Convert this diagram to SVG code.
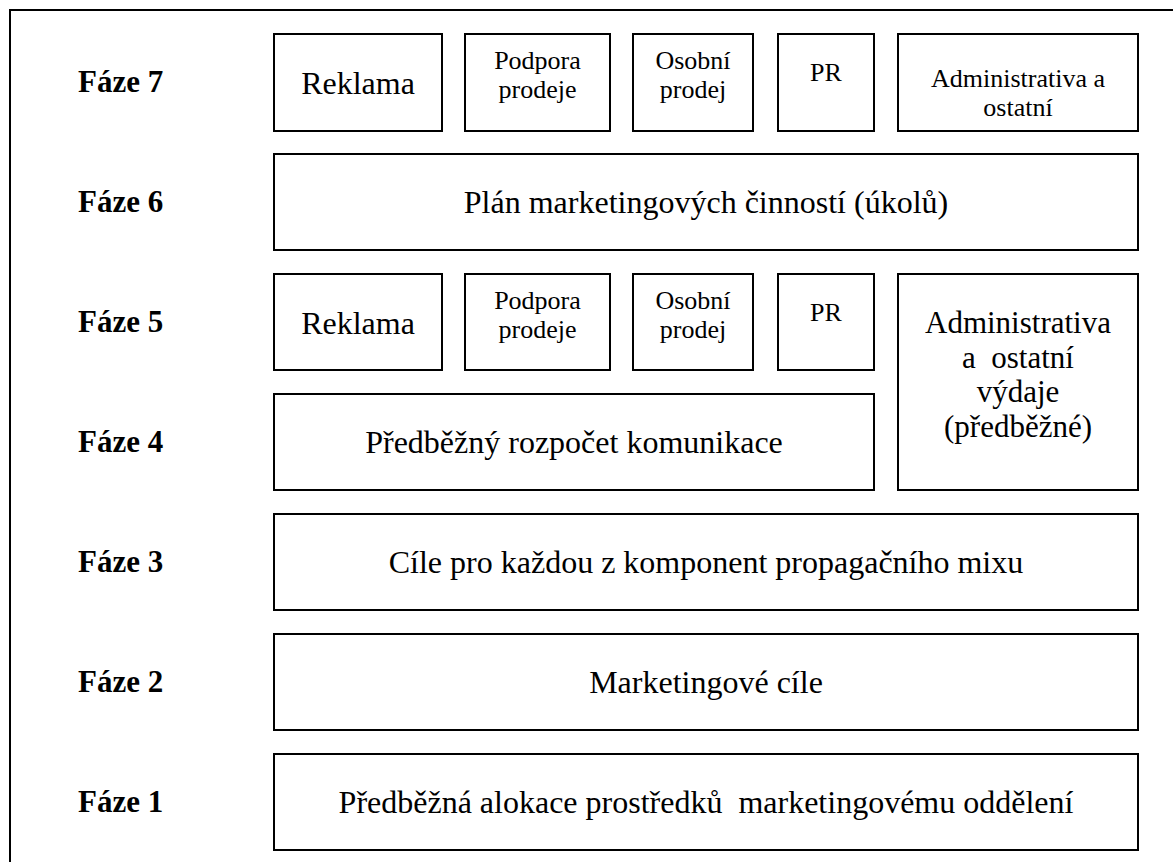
<svg xmlns="http://www.w3.org/2000/svg" width="1173" height="862" viewBox="0 0 1173 862">
  <style>
    .frame { fill: none; stroke: #000; stroke-width: 2; }
    .box { fill: #fff; stroke: #000; stroke-width: 2; }
    text { font-family: 'Liberation Serif', 'DejaVu Serif', serif; fill: #000; }
    .phase { font-weight: bold; font-size: 31px; }
    .big { font-size: 32px; text-anchor: middle; }
    .tall { font-size: 31px; text-anchor: middle; }
    .small { font-size: 26px; text-anchor: middle; }
  </style>
  <rect width="1173" height="862" fill="#fff"/>
  <!-- outer frame, open to the right -->
  <rect class="frame" x="10" y="10" width="1200" height="900"/>

  <!-- phase labels -->
  <g id="labels">
    <text class="phase" x="78" y="92">Fáze 7</text>
    <text class="phase" x="78" y="212">Fáze 6</text>
    <text class="phase" x="78" y="332">Fáze 5</text>
    <text class="phase" x="78" y="452">Fáze 4</text>
    <text class="phase" x="78" y="572">Fáze 3</text>
    <text class="phase" x="78" y="692">Fáze 2</text>
    <text class="phase" x="78" y="812">Fáze 1</text>
  </g>

  <!-- phase 7 -->
  <g id="f7-reklama">
    <rect class="box" x="274" y="34" width="168" height="97"/>
    <text class="big" x="358" y="94">Reklama</text>
  </g>
  <g id="f7-podpora">
    <rect class="box" x="465" y="34" width="145" height="97"/>
    <text class="small" x="537.5" y="69">Podpora</text>
    <text class="small" x="537.5" y="98">prodeje</text>
  </g>
  <g id="f7-osobni">
    <rect class="box" x="633" y="34" width="120" height="97"/>
    <text class="small" x="693" y="69">Osobní</text>
    <text class="small" x="693" y="98">prodej</text>
  </g>
  <g id="f7-pr">
    <rect class="box" x="778" y="34" width="96" height="97"/>
    <text class="small" x="826" y="81">PR</text>
  </g>
  <g id="f7-admin">
    <rect class="box" x="898" y="34" width="240" height="97"/>
    <text class="small" x="1018" y="87">Administrativa a</text>
    <text class="small" x="1018" y="116">ostatní</text>
  </g>

  <!-- phase 6 -->
  <g id="f6-plan">
    <rect class="box" x="274" y="154" width="864" height="96"/>
    <text class="big" x="706" y="213">Plán marketingových činností (úkolů)</text>
  </g>

  <!-- phase 5 -->
  <g id="f5-reklama">
    <rect class="box" x="274" y="274" width="168" height="96"/>
    <text class="big" x="358" y="334">Reklama</text>
  </g>
  <g id="f5-podpora">
    <rect class="box" x="465" y="274" width="145" height="96"/>
    <text class="small" x="537.5" y="309">Podpora</text>
    <text class="small" x="537.5" y="338">prodeje</text>
  </g>
  <g id="f5-osobni">
    <rect class="box" x="633" y="274" width="120" height="96"/>
    <text class="small" x="693" y="309">Osobní</text>
    <text class="small" x="693" y="338">prodej</text>
  </g>
  <g id="f5-pr">
    <rect class="box" x="778" y="274" width="96" height="96"/>
    <text class="small" x="826" y="321">PR</text>
  </g>
  <g id="f45-admin">
    <rect class="box" x="898" y="274" width="240" height="216"/>
    <text class="tall" x="1018" y="333">Administrativa</text>
    <text class="tall" x="1018" y="367.5" xml:space="preserve">a  ostatní</text>
    <text class="tall" x="1018" y="402">výdaje</text>
    <text class="tall" x="1018" y="436.5">(předběžné)</text>
  </g>

  <!-- phase 4 -->
  <g id="f4-rozpocet">
    <rect class="box" x="274" y="394" width="600" height="96"/>
    <text class="big" x="574" y="453">Předběžný rozpočet komunikace</text>
  </g>

  <!-- phase 3 -->
  <g id="f3-cile">
    <rect class="box" x="274" y="514" width="864" height="96"/>
    <text class="big" x="706" y="573">Cíle pro každou z komponent propagačního mixu</text>
  </g>

  <!-- phase 2 -->
  <g id="f2-cile">
    <rect class="box" x="274" y="634" width="864" height="96"/>
    <text class="big" x="706" y="693">Marketingové cíle</text>
  </g>

  <!-- phase 1 -->
  <g id="f1-alokace">
    <rect class="box" x="274" y="754" width="864" height="96"/>
    <text class="big" x="706" y="813" xml:space="preserve">Předběžná alokace prostředků  marketingovému oddělení</text>
  </g>

  <!-- no connectors between the stacked phases -->
  <g id="connectors"/>
</svg>
